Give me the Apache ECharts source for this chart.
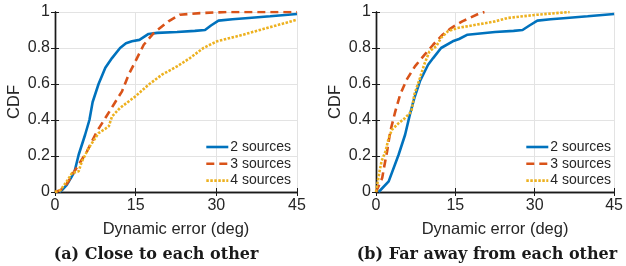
<!DOCTYPE html>
<html>
<head>
<meta charset="utf-8">
<script src="https://cdn.jsdelivr.net/npm/echarts@6/dist/echarts.min.js"></script>
<style>html,body{margin:0;padding:0;background:#fff}#c{width:626px;height:266px}</style>
</head>
<body>
<div id="c"></div>
<script>
// ---- data ----
const seriesNames = ['2 sources', '3 sources', '4 sources'];
const xTicks = [0, 15, 30, 45];
const captions = ['(a) Close to each other', '(b) Far away from each other'];

const closeTwo = [[0.8,0],[1.3,0.01],[2.2,0.04],[3.0,0.08],[3.65,0.115],[4.4,0.207],[5.6,0.318],[6.4,0.40],[7.0,0.50],[8.1,0.60],[9.36,0.69],[10.6,0.744],[12.1,0.80],[13.2,0.826],[14.3,0.837],[15.7,0.845],[17.4,0.878],[19,0.884],[22.7,0.889],[26,0.895],[27.9,0.90],[29,0.925],[30.4,0.952],[33,0.96],[36,0.967],[40,0.976],[45,0.989]];
const closeThree = [[0,0],[1,0.01],[1.8,0.03],[2.5,0.059],[3.5,0.11],[4.4,0.152],[5.95,0.226],[7.8,0.337],[9.36,0.411],[10.9,0.485],[12.46,0.559],[13.7,0.652],[15.25,0.744],[16.5,0.818],[18.35,0.883],[21.1,0.948],[23.2,0.985],[27,0.994],[32,1.0],[45,1.0]];
const closeFour = [[0,0],[1,0.01],[2.2,0.059],[3.16,0.105],[4.4,0.115],[5.0,0.17],[6.26,0.244],[8.1,0.327],[9.3,0.35],[10.0,0.365],[10.6,0.42],[12.1,0.467],[14.9,0.53],[17.4,0.596],[19.9,0.652],[22.7,0.698],[25.1,0.744],[27.6,0.80],[30.1,0.837],[35,0.874],[39.4,0.911],[45,0.957]];

const farTwo = [[0.5,0],[0.86,0.01],[2.4,0.059],[4.27,0.207],[5.5,0.318],[6.4,0.43],[7.24,0.522],[8.3,0.615],[9.84,0.707],[10.8,0.744],[12.3,0.80],[14.5,0.837],[15.7,0.85],[17.3,0.874],[22.5,0.889],[26,0.895],[27.7,0.90],[29,0.925],[30.5,0.952],[33,0.96],[36,0.967],[40,0.976],[45,0.989]];
const farThree = [[0,0],[0.24,0],[1.17,0.078],[1.5,0.133],[2.1,0.226],[2.7,0.337],[3.65,0.448],[4.57,0.541],[5.8,0.624],[7.36,0.698],[9.2,0.763],[10.8,0.818],[12.6,0.874],[14.2,0.911],[16.3,0.948],[19.7,0.994],[20.5,1.0]];
const farFour = [[0,0],[0.55,0.096],[1.04,0.17],[1.8,0.226],[2.4,0.30],[3.0,0.346],[4.3,0.383],[5.5,0.411],[6.7,0.448],[7.24,0.541],[8.3,0.633],[9.1,0.707],[10.1,0.781],[11.4,0.81],[12.3,0.856],[13.6,0.893],[15.4,0.911],[19.1,0.93],[22.5,0.948],[24.9,0.967],[30.5,0.985],[36.6,1.0]];

// ---- chart ----
const colors = ['#0072BD', '#D95319', '#EDB120'];
const lineTypes = ['solid', [8, 5], [2.5, 1.5]];
const panels = [[closeTwo, closeThree, closeFour], [farTwo, farThree, farFour]];
const gridLefts = [55, 376];
const legendLefts = [205, 525];
const captionX = [156, 487];
const txt = '#262626';
const font = 'Liberation Sans, Arial, sans-serif';

const grid = [], xAxis = [], yAxis = [], series = [], legend = [], graphic = [];
gridLefts.forEach((gl, p) => {
  grid.push({left: gl, top: 12, width: 242, height: 180});
  const axLine = {show: true, lineStyle: {color: '#1a1a1a', width: 1.4}};
  const tick = {show: true, inside: true, length: 4, lineStyle: {color: '#1a1a1a'}};
  xAxis.push({
    gridIndex: p, type: 'value', min: xTicks[0], max: xTicks[xTicks.length - 1], interval: xTicks[1] - xTicks[0],
    position: 'bottom', axisLine: axLine, axisTick: tick,
    axisLabel: {color: txt, fontSize: 16, fontFamily: font, margin: 6},
    splitLine: {show: true, lineStyle: {color: '#e3e3e3', width: 1}},
    name: 'Dynamic error (deg)', nameLocation: 'middle', nameGap: 29,
    nameTextStyle: {color: txt, fontSize: 16.5, fontFamily: font}
  });
  xAxis.push({
    gridIndex: p, type: 'value', min: xTicks[0], max: xTicks[xTicks.length - 1], interval: xTicks[1] - xTicks[0],
    position: 'top', axisLine: axLine, axisTick: tick, axisLabel: {show: false}, splitLine: {show: false}
  });
  yAxis.push({
    gridIndex: p, type: 'value', min: 0, max: 1, interval: 0.2,
    position: 'left', axisLine: axLine, axisTick: tick,
    axisLabel: {color: txt, fontSize: 16, fontFamily: font, margin: 5},
    splitLine: {show: true, lineStyle: {color: '#e3e3e3', width: 1}},
    name: 'CDF', nameLocation: 'middle', nameGap: 32,
    nameTextStyle: {color: txt, fontSize: 16.5, fontFamily: font}
  });
  yAxis.push({
    gridIndex: p, type: 'value', min: 0, max: 1, interval: 0.2,
    position: 'right', axisLine: axLine, axisTick: tick, axisLabel: {show: false}, splitLine: {show: false}
  });
  panels[p].forEach((data, i) => {
    series.push({
      type: 'line', name: seriesNames[i], xAxisIndex: 2 * p, yAxisIndex: 2 * p,
      data: data, symbol: 'none', showSymbol: false, smooth: false, animation: false,
      lineStyle: {color: colors[i], width: 2.6, type: lineTypes[i]},
      itemStyle: {color: colors[i]}, z: 3 + i
    });
  });
  legend.push({
    orient: 'vertical', left: legendLefts[p], top: 140, itemWidth: 22, itemHeight: 14, itemGap: 2.8,
    data: seriesNames, textStyle: {color: txt, fontSize: 14, fontFamily: font, padding: [0, 0, 0, -3]},
    itemStyle: {opacity: 0}, lineStyle: {width: 2.6},
    selectedMode: false, padding: 0
  });
  graphic.push({
    type: 'text', x: captionX[p], y: 255,
    style: {text: captions[p], fill: '#1a1a1a', font: 'bold 16px "DejaVu Serif", serif',
      textAlign: 'center', textVerticalAlign: 'middle'}
  });
});

const chart = echarts.init(document.getElementById('c'), null, {renderer: 'canvas'});
chart.setOption({animation: false, grid, xAxis, yAxis, series, legend, graphic});
</script>
</body>
</html>
